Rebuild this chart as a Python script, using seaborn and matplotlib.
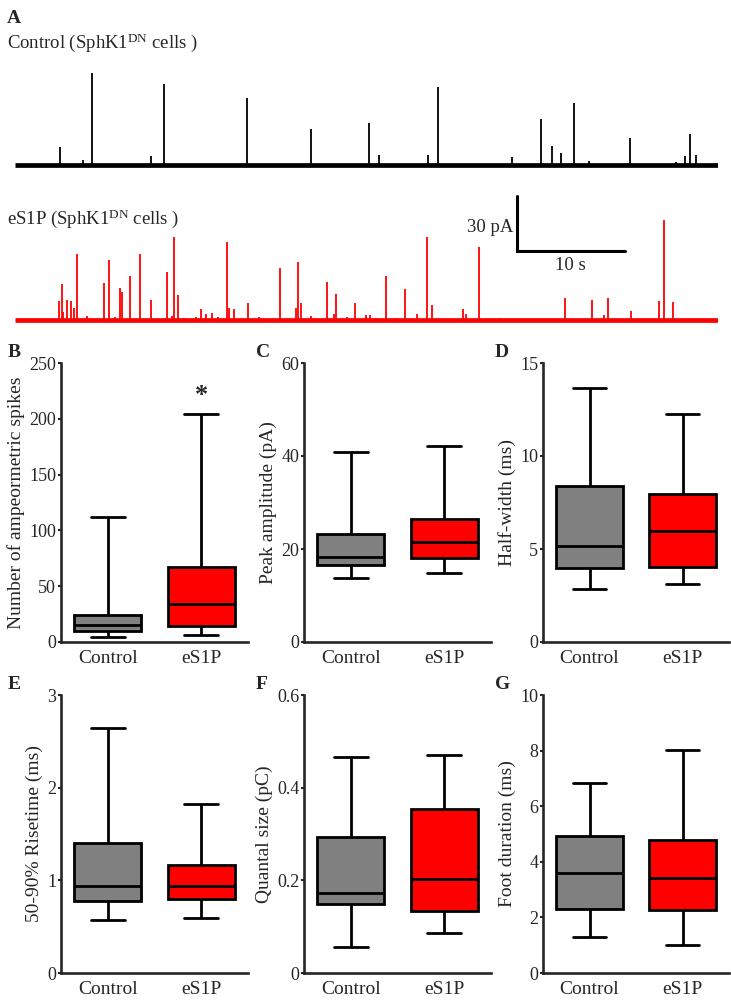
import numpy as np
import pandas as pd
import matplotlib
matplotlib.use("Agg")
import matplotlib.pyplot as plt
import seaborn as sns

sns.set_style("ticks")
plt.rcParams['font.family'] = ['Liberation Serif', 'DejaVu Serif']
plt.rcParams['mathtext.fontset'] = 'custom'
plt.rcParams['mathtext.rm'] = 'Liberation Serif'
plt.rcParams['mathtext.it'] = 'Liberation Serif:italic'

# ---------------- data ----------------
groups = ["Control", "eS1P"]
colors = {"Control": "#808080", "eS1P": "#FF0000"}

# five-number summaries: [min, q1, median, q3, max]
spikes_ctrl = [4.5, 9.5, 15.5, 24.5, 112]
spikes_es1p = [6.3, 14, 34, 67, 204]
amp_ctrl = [13.8, 16.5, 18.2, 23.3, 40.8]
amp_es1p = [14.8, 18.0, 21.6, 26.4, 42.1]
hw_ctrl = [2.87, 3.96, 5.16, 8.37, 13.65]
hw_es1p = [3.1, 4.03, 5.98, 7.97, 12.26]
rise_ctrl = [0.567, 0.776, 0.94, 1.40, 2.64]
rise_es1p = [0.59, 0.80, 0.94, 1.17, 1.82]
q_ctrl = [0.056, 0.149, 0.172, 0.293, 0.466]
q_es1p = [0.087, 0.134, 0.203, 0.354, 0.47]
foot_ctrl = [1.28, 2.30, 3.58, 4.93, 6.83]
foot_es1p = [1.0, 2.28, 3.41, 4.79, 8.02]

# amperometric traces: spike times (s) and amplitudes (pA)
ctrl_t = [4.14, 6.30, 7.12, 12.64, 13.81, 21.44, 27.44, 32.75, 33.69, 38.27, 39.18,
          46.04, 48.71, 49.75, 50.56, 51.73, 53.20, 56.91, 61.22, 62.09, 62.47, 63.08]
ctrl_a = [9.8, 2.7, 50.2, 4.9, 44.2, 36.6, 19.6, 22.9, 5.5, 5.5, 42.6,
          4.4, 25.1, 10.4, 6.5, 33.8, 2.2, 14.7, 1.6, 4.9, 16.9, 5.5]
es1p_t = [4.05, 4.36, 4.49, 4.83, 5.22, 5.48, 5.74, 6.69, 8.28, 8.71, 9.23, 9.71, 9.88,
          10.61, 11.56, 12.56, 14.07, 14.50, 14.71, 15.10, 15.62, 16.74, 17.21, 17.69,
          18.25, 18.81, 19.59, 19.85, 20.28, 21.57, 22.61, 24.51, 26.06, 26.19, 26.49,
          27.44, 28.91, 29.51, 29.77, 30.72, 31.50, 32.49, 32.92, 33.44, 34.35, 35.25,
          36.16, 37.24, 38.19, 38.62, 41.47, 41.77, 42.98, 44.87, 50.92, 53.42, 54.58,
          54.93, 57.00, 59.63, 60.06, 60.97]
es1p_a = [10.2, 19.8, 4.4, 10.9, 10.2, 6.5, 35.8, 2.2, 20.3, 32.9, 1.6, 17.5, 15.1,
          24.0, 35.8, 11.1, 26.4, 2.2, 45.1, 13.5, 0.9, 1.8, 6.2, 3.1,
          3.7, 1.6, 42.6, 6.4, 5.8, 9.4, 1.8, 28.4, 6.7, 31.8, 9.1,
          2.3, 20.6, 3.1, 14.2, 1.8, 9.1, 2.7, 2.6, 0.9, 24.0, 0.9,
          16.7, 3.4, 45.1, 8.2, 6.2, 3.4, 40.0, 0.9, 12.0, 10.7, 2.6,
          12.2, 4.9, 10.5, 54.6, 9.7]
trace_duration = 65.1

panels = [
    ("B", "Number of ampeormetric spikes", spikes_ctrl, spikes_es1p, (0, 250), [0, 50, 100, 150, 200, 250], ["0", "50", "100", "150", "200", "250"]),
    ("C", "Peak amplitude (pA)", amp_ctrl, amp_es1p, (0, 60), [0, 20, 40, 60], ["0", "20", "40", "60"]),
    ("D", "Half-width (ms)", hw_ctrl, hw_es1p, (0, 15), [0, 5, 10, 15], ["0", "5", "10", "15"]),
    ("E", "50-90% Risetime (ms)", rise_ctrl, rise_es1p, (0, 3), [0, 1, 2, 3], ["0", "1", "2", "3"]),
    ("F", "Quantal size (pC)", q_ctrl, q_es1p, (0, 0.6), [0, 0.2, 0.4, 0.6], ["0", "0.2", "0.4", "0.6"]),
    ("G", "Foot duration (ms)", foot_ctrl, foot_es1p, (0, 10), [0, 2, 4, 6, 8, 10], ["0", "2", "4", "6", "8", "10"]),
]

# ---------------- figure ----------------
W, H = 731, 1000
fig = plt.figure(figsize=(W / 100, H / 100), dpi=100)

def fx(px):
    return px / W

def fy(py):
    return 1 - py / H

# Panel A traces
px_per_pA = 55 / 30.0
trace_left, trace_right = 15, 718
ax_c = fig.add_axes([fx(trace_left), fy(175), fx(trace_right - trace_left), (175 - 60) / H])
ax_e = fig.add_axes([fx(trace_left), fy(330), fx(trace_right - trace_left), (330 - 190) / H])
for ax, t, a, col, base_px, top_px, bot_px in [
        (ax_c, ctrl_t, ctrl_a, "black", 165, 60, 175),
        (ax_e, es1p_t, es1p_a, "#FF0000", 320, 190, 330)]:
    ax.set_xlim(0, trace_duration)
    ax.set_ylim(-(bot_px - base_px) / px_per_pA, (base_px - top_px) / px_per_pA)
    ax.axhline(0, color=col, lw=3.4, solid_capstyle="butt")
    ax.vlines(t, 0, a, color=col, lw=1.3)
    ax.axis("off")

# scale bar (30 pA, 10 s)
sb_t0 = (517 - trace_left) / (trace_right - trace_left) * trace_duration
sb_y0 = (320 - 251) / px_per_pA
ax_e.plot([sb_t0, sb_t0, sb_t0 + 10], [sb_y0 + 30, sb_y0, sb_y0], color="black", lw=2.2,
          solid_joinstyle="miter", clip_on=False)
fig.text(fx(513), fy(232), "30 pA", ha="right", va="baseline", fontsize=13.5)
fig.text(fx(570), fy(270), "10 s", ha="center", va="baseline", fontsize=13.5)

fig.text(fx(7), fy(23), "A", fontsize=14, fontweight="bold", va="baseline")
fig.text(fx(7), fy(48), r"Control (SphK1$^{\mathrm{DN}}$ cells )", fontsize=13.5, va="baseline")
fig.text(fx(7), fy(224), r"eS1P (SphK1$^{\mathrm{DN}}$ cells )", fontsize=13.5, va="baseline")

# Box plot panels
lefts = [61, 304, 543]
widths = [187, 187, 186]
rows = [(363, 642), (695, 973)]
letter_x = [8, 256, 495]
letter_y = [357, 689]

for i, (letter, ylabel, c_vals, e_vals, ylim, yt, ytl) in enumerate(panels):
    r, c = divmod(i, 3)
    top, bot = rows[r]
    ax = fig.add_axes([fx(lefts[c]), fy(bot), fx(widths[c]), (bot - top) / H])
    df = pd.DataFrame({"group": ["Control"] * len(c_vals) + ["eS1P"] * len(e_vals),
                       "value": list(c_vals) + list(e_vals)})
    sns.boxplot(data=df, x="group", y="value", hue="group", order=groups, hue_order=groups,
                palette=colors, saturation=1, whis=(0, 100), width=0.72,
                linecolor="black", linewidth=2.0, legend=False, ax=ax)
    ax.set_xlim(-0.5, 1.5)
    ax.set_ylim(*ylim)
    ax.set_yticks(yt)
    ax.set_yticklabels(ytl)
    ax.set_xlabel("")
    ax.set_ylabel(ylabel, fontsize=14, labelpad=3)
    sns.despine(ax=ax)
    for s in ["left", "bottom"]:
        ax.spines[s].set_linewidth(1.9)
    ax.tick_params(axis="y", length=2.5, width=1.5, labelsize=13, pad=1)
    ax.tick_params(axis="x", length=0, labelsize=14, pad=6)
    fig.text(fx(letter_x[c]), fy(letter_y[r]), letter, fontsize=14, fontweight="bold", va="baseline")
    if letter == "B":
        ax.text(1, 221, "*", ha="center", va="center", fontsize=19, fontweight="bold")

fig.savefig("out.png", dpi=100)
